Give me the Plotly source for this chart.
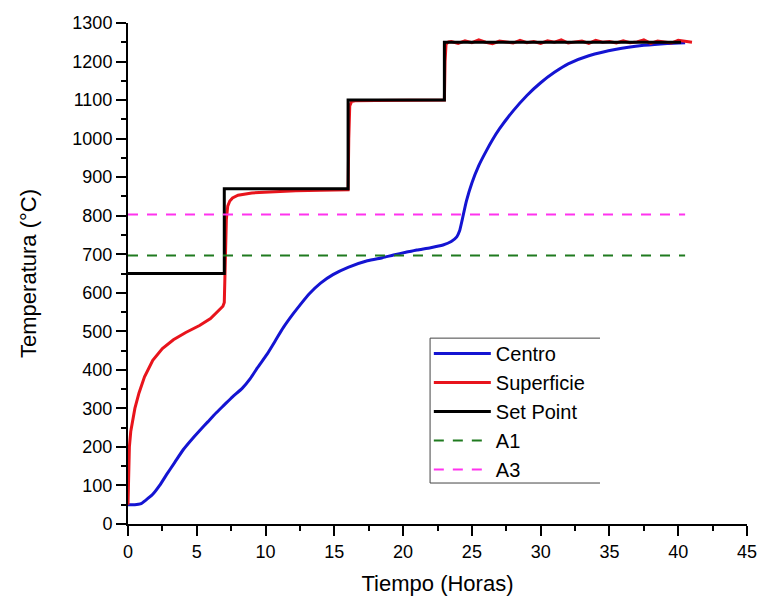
import plotly.graph_objects as go

# Centro (blue)
centro_t = [0, 0.5, 0.9, 1.3, 1.8, 2.3, 2.8, 3.4, 4.0, 4.6, 5.2, 5.8, 6.4, 7.0, 7.6, 8.3, 8.9, 9.4,
            10.1, 10.7, 11.3, 12.0, 12.5, 13.2, 14.0, 14.9, 16.0, 17.4, 18.5, 19.3, 20.2, 21.0, 22.0,
            22.9, 23.5, 23.9, 24.1, 24.3, 24.6, 25.0, 25.5, 26.0, 26.5, 27.0, 28.0, 29.0, 30.0, 31.0,
            32.0, 33.5, 35.5, 37.5, 39.2, 40.5]
centro_T = [50, 50, 52, 62, 77, 100, 128, 160, 192, 218, 242, 265, 288, 309, 330, 352, 378, 405,
            440, 475, 510, 545, 568, 598, 625, 647, 666, 683, 691, 698, 705, 711, 717,
            724, 733, 745, 760, 790, 838, 885, 930, 965, 997, 1025, 1072, 1112, 1145, 1172,
            1194, 1215, 1232, 1242, 1247, 1249]

# Superficie (red)
sup_t = [0, 0.03, 0.1, 0.2, 0.35, 0.5, 0.8, 1.2, 1.8, 2.5, 3.3, 4.2, 5.2, 6.0, 6.9, 7.0, 7.08, 7.15,
         7.25, 7.4, 7.6, 8.0, 9.0, 10.5, 12.2, 14.0, 16.0, 16.05, 16.12, 16.25, 16.5, 18.0, 20.0, 23.0,
         23.05, 23.12, 23.3,
         23.5, 24.0, 24.5, 25.0, 25.5, 26.0, 26.5, 27.0, 27.5, 28.0, 28.5, 29.0, 29.5, 30.0, 30.5,
         31.0, 31.5, 32.0, 32.5, 33.0, 33.5, 34.0, 34.5, 35.0, 35.5, 36.0, 36.5, 37.0, 37.5, 38.0,
         38.5, 39.0, 39.5, 40.0, 40.5, 41.0]
sup_T = [50, 130, 200, 240, 275, 300, 340, 382, 425, 455, 478, 497, 515, 533, 565, 575, 690, 790,
         825, 838, 846, 853, 859, 862, 865, 866, 867, 1000, 1085, 1096, 1098, 1099, 1099, 1100,
         1200, 1245, 1251,
         1252, 1247, 1254, 1249, 1256, 1250, 1246, 1253, 1251, 1248, 1255, 1249, 1252, 1247, 1254,
         1250, 1256, 1248, 1251, 1253, 1247, 1255, 1250, 1252, 1248, 1254, 1249, 1251, 1256, 1247,
         1253, 1250, 1248, 1255, 1252, 1250]

# Set Point (black)
sp_t = [0, 7, 7, 16, 16, 23, 23, 40.2]
sp_T = [650, 650, 870, 870, 1100, 1100, 1250, 1250]

# Critical temperatures
a_t = [0, 40.5]
a1_T = [697, 697]
a3_T = [803, 803]

x_ticks = [0, 5, 10, 15, 20, 25, 30, 35, 40, 45]
y_ticks = list(range(0, 1301, 100))

fig = go.Figure()
fig.add_trace(go.Scatter(x=centro_t, y=centro_T, mode="lines", name="Centro",
                         line=dict(color="#1414d2", width=3, shape="spline", smoothing=0.6)))
fig.add_trace(go.Scatter(x=sup_t, y=sup_T, mode="lines", name="Superficie",
                         line=dict(color="#e8141c", width=3)))
fig.add_trace(go.Scatter(x=sp_t, y=sp_T, mode="lines", name="Set Point",
                         line=dict(color="black", width=3)))
fig.add_trace(go.Scatter(x=a_t, y=a1_T, mode="lines", name="A1",
                         line=dict(color="#1f7a1f", width=2, dash="10px,9px")))
fig.add_trace(go.Scatter(x=a_t, y=a3_T, mode="lines", name="A3",
                         line=dict(color="#ff33ee", width=2, dash="10px,9px")))

font_family = "Liberation Sans, Arial, sans-serif"

fig.update_layout(
    width=759, height=599,
    margin=dict(l=128, r=12, t=23, b=75),
    plot_bgcolor="white", paper_bgcolor="white",
    font=dict(family=font_family, color="black"),
    showlegend=True,
    legend=dict(x=0.486, y=0.379, xanchor="left", yanchor="top",
                font=dict(size=20, family=font_family), bgcolor="rgba(0,0,0,0)",
                itemwidth=57, tracegroupgap=0),
    shapes=[
        dict(type="line", xref="paper", yref="paper", x0=0.488, x1=0.7625, y0=0.371, y1=0.371,
             line=dict(color="#444", width=1)),
        dict(type="line", xref="paper", yref="paper", x0=0.488, x1=0.488, y0=0.371, y1=0.0818,
             line=dict(color="#444", width=1)),
        dict(type="line", xref="paper", yref="paper", x0=0.488, x1=0.7625, y0=0.0818, y1=0.0818,
             line=dict(color="#444", width=1)),
    ],
)

fig.update_xaxes(
    range=[0, 45], tickvals=x_ticks, ticktext=[str(v) for v in x_ticks],
    automargin=False,
    showgrid=False, zeroline=False, showline=True, linecolor="black", linewidth=2,
    ticks="outside", ticklen=10, tickwidth=2, tickcolor="black",
    tickfont=dict(size=18, family=font_family),
    minor=dict(dtick=2.5, ticks="outside", ticklen=5, tickwidth=2, tickcolor="black", showgrid=False),
    title=dict(text="Tiempo (Horas)", font=dict(size=22, family=font_family), standoff=15),
)
fig.update_yaxes(
    range=[0, 1300], tickvals=y_ticks, ticktext=[str(v) for v in y_ticks],
    automargin=False,
    showgrid=False, zeroline=False, showline=True, linecolor="black", linewidth=2,
    ticks="outside", ticklen=10, tickwidth=2, tickcolor="black",
    tickfont=dict(size=18, family=font_family),
    minor=dict(dtick=50, ticks="outside", ticklen=5, tickwidth=2, tickcolor="black", showgrid=False),
    title=dict(text="Temperatura (°C)", font=dict(size=22, family=font_family), standoff=30),
)

fig.write_html("out.html")
